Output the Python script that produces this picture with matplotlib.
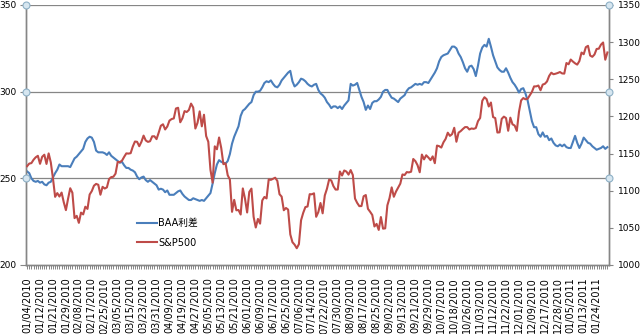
import matplotlib
matplotlib.use("Agg")
import matplotlib.pyplot as plt
from matplotlib.lines import Line2D

plt.rcParams['font.family'] = ['DejaVu Sans', 'Noto Sans CJK SC']

# BAA 利差 (左轴, bp), 每个交易日一个值
baa = [
    254, 253, 250, 248.5, 248, 248.5, 247.5, 248, 246.5, 246,
    247.5, 248, 250.5, 253, 255, 258, 257, 257, 257, 257,
    256.5, 259, 261.5, 262.5, 264, 265.5, 267, 271, 273, 274,
    273.5, 271, 266, 265, 265, 265, 264.5, 263.5, 265, 263,
    262, 261, 260, 259, 259.5, 257.5, 256, 256, 255, 254.5,
    253.5, 251, 249.5, 250.5, 251, 249, 248, 249, 248, 247,
    246, 243.5, 244, 243.5, 242, 243, 240.5, 240.5, 240.5, 241.5,
    242.5, 243, 241, 239.5, 238.5, 237.5, 237.5, 238.5, 238, 237.5,
    237, 237.5, 237, 238.5, 240, 241.5, 247, 253, 258, 260.5,
    259.5, 259, 258.5, 260, 264, 270, 274, 277, 280, 286,
    289, 290, 291.5, 293, 294, 298, 300, 300, 300.5, 302.5,
    305, 306, 305.5, 306.5, 304.5, 303, 302.5, 304, 306.5, 308,
    309.5, 311, 312, 306, 303, 304, 305.5, 307.5, 307, 306,
    304.5, 303.5, 303, 304, 304.5, 301, 299, 298, 296.5, 294,
    292.5, 290.5, 291.5, 291.5, 290.5, 291.5, 290, 292, 293.5, 295,
    304.5, 303.5, 304, 305, 301, 297, 294, 289.5, 292, 290,
    293.5, 294.5, 294.5, 295.5, 297, 300, 301, 301, 298.5, 296.5,
    296, 295, 294, 296, 297, 298, 300.5, 302, 302.5, 303.5,
    304.5, 304, 304.5, 304, 305.5, 305.5, 305, 307, 309, 311,
    313.5, 317.5, 320, 321, 321.5, 322, 324, 326, 326, 325,
    322, 320, 317, 313.5, 311.5, 314.5, 315, 313, 309, 315,
    322, 325.5, 327, 326, 330.5, 326, 321, 317.5, 314, 312.5,
    311.5, 311.5, 313.5, 311, 308, 305.5, 304, 302, 299.5, 301.5,
    302, 299, 295, 289, 283, 279.5, 279.5, 275.5, 274, 276.5,
    274, 274.5, 272, 273, 270.5, 269, 268.5, 269.5, 268.5, 269.5,
    268, 267.5, 267.5, 271, 274.5, 270.5, 267.5, 270, 273.5, 272,
    270.5, 270, 268.5, 267.5, 266.5, 267, 267.5, 268.5, 267, 268,
]

# S&P500 收盘价 (右轴)
spx = [
    # 2010-01
    1132.99, 1136.52, 1137.14, 1141.69, 1144.98, 1146.98, 1136.22, 1145.68, 1148.46, 1136.03,
    1150.23, 1138.04, 1116.48, 1091.76, 1096.78, 1092.17, 1097.50, 1084.53, 1073.87,
    # 02
    1089.19, 1103.32, 1097.28, 1063.11, 1066.19, 1056.74, 1070.52, 1068.13, 1078.47, 1075.51,
    1094.87, 1099.51, 1106.75, 1109.17, 1108.01, 1094.60, 1105.24, 1102.94, 1104.49,
    # 03
    1115.71, 1118.31, 1118.79, 1122.97, 1138.70, 1138.50, 1140.45, 1145.61, 1150.24, 1149.99,
    1150.51, 1159.46, 1166.21, 1165.83, 1159.90, 1165.81, 1174.17, 1167.72, 1165.73, 1166.59,
    1173.22, 1173.27, 1169.43,
    # 04
    1178.10, 1187.44, 1189.44, 1182.45, 1186.44, 1194.37, 1196.48, 1197.30, 1210.65, 1211.67,
    1192.13, 1197.52, 1207.17, 1205.94, 1208.67, 1217.28, 1212.05, 1183.71, 1191.36, 1206.78,
    1186.69,
    # 05
    1202.26, 1173.60, 1165.87, 1128.15, 1110.88, 1159.73, 1155.79, 1171.67, 1157.44, 1135.68,
    1136.94, 1120.80, 1115.05, 1071.59, 1087.69, 1073.65, 1074.03, 1067.95, 1103.06, 1089.41,
    # 06
    1070.71, 1098.38, 1102.83, 1064.88, 1050.47, 1062.00, 1055.69, 1086.84, 1091.60, 1089.63,
    1115.23, 1114.61, 1116.04, 1117.51, 1113.20, 1095.31, 1092.04, 1073.69, 1076.76, 1074.57,
    1041.24, 1030.71,
    # 07
    1027.37, 1022.58, 1028.06, 1060.27, 1070.25, 1077.96, 1078.75, 1095.34, 1095.17, 1096.48,
    1064.88, 1071.25, 1083.48, 1069.59, 1093.67, 1102.66, 1115.01, 1113.84, 1106.13, 1101.53,
    1101.60,
    # 08
    1125.86, 1120.46, 1127.24, 1125.81, 1121.64, 1127.79, 1121.06, 1089.47, 1083.61, 1079.25,
    1079.38, 1092.54, 1094.16, 1075.63, 1071.69, 1067.36, 1051.87, 1055.33, 1047.22, 1064.59,
    1048.92, 1049.33,
    # 09
    1080.29, 1090.10, 1104.51, 1091.84, 1098.87, 1104.18, 1109.55, 1121.90, 1121.10, 1125.07,
    1124.66, 1125.59, 1142.71, 1139.78, 1134.28, 1124.83, 1148.67, 1142.16, 1147.70, 1144.73,
    1141.20,
    # 10
    1146.24, 1137.03, 1160.75, 1159.97, 1158.06, 1165.15, 1169.77, 1178.10, 1173.81, 1176.19,
    1184.71, 1165.90, 1178.17, 1180.26, 1183.08, 1185.62, 1185.64, 1182.45, 1183.78, 1183.26,
    # 11
    1184.38, 1193.57, 1197.96, 1221.06, 1225.85, 1223.25, 1213.40, 1218.71, 1199.21, 1197.75,
    1178.34, 1178.59, 1196.69, 1199.73, 1197.84, 1180.73, 1198.35, 1189.40, 1187.76, 1180.55,
    # 12
    1206.07, 1221.53, 1224.71, 1223.12, 1223.75, 1228.28, 1233.00, 1240.40, 1240.46, 1241.59,
    1235.23, 1242.87, 1243.91, 1247.08, 1254.60, 1258.84, 1256.77, 1257.54, 1258.51, 1259.78,
    1257.88, 1257.64,
    # 2011-01
    1271.87, 1270.20, 1276.56, 1273.85, 1271.50, 1269.75, 1274.48, 1285.96, 1283.76, 1293.24,
    1295.02, 1281.92, 1280.26, 1283.35, 1290.84, 1291.18, 1296.63, 1299.54, 1276.34, 1286.12,
]

# 横轴标签 (每 6 个交易日一个)
date_labels = [
    "01/04/2010", "01/12/2010", "01/21/2010", "01/29/2010", "02/08/2010", "02/17/2010",
    "02/25/2010", "03/05/2010", "03/15/2010", "03/23/2010", "03/31/2010", "04/09/2010",
    "04/19/2010", "04/27/2010", "05/05/2010", "05/13/2010", "05/21/2010", "06/01/2010",
    "06/09/2010", "06/17/2010", "06/25/2010", "07/06/2010", "07/14/2010", "07/22/2010",
    "07/30/2010", "08/09/2010", "08/17/2010", "08/25/2010", "09/02/2010", "09/13/2010",
    "09/21/2010", "09/29/2010", "10/07/2010", "10/18/2010", "10/26/2010", "11/03/2010",
    "11/12/2010", "11/22/2010", "12/01/2010", "12/09/2010", "12/17/2010", "12/28/2010",
    "01/05/2011", "01/13/2011", "01/24/2011",
]
label_step = 6

left_ticks = [200, 250, 300, 350]
right_ticks = [1000, 1050, 1100, 1150, 1200, 1250, 1300, 1350]

blue = '#4a7ebb'
red = '#be4b48'
gray = '#868686'

n = len(baa)
x = list(range(n))

fig = plt.figure(figsize=(6.4, 3.34), dpi=100)
ax = fig.add_axes([26 / 640, 1 - 265 / 334, 582.5 / 640, 260 / 334])
ax2 = ax.twinx()

ax.plot(x, baa, color=blue, lw=1.5, solid_joinstyle='round', zorder=3)
ax2.plot(x, spx, color=red, lw=1.5, solid_joinstyle='round', zorder=3)

ax.set_xlim(-0.5, n - 0.5)
ax.set_ylim(left_ticks[0], left_ticks[-1])
ax2.set_ylim(right_ticks[0], right_ticks[-1])

# 网格线 (左轴)
for v in left_ticks[1:]:
    ax.axhline(v, color=gray, lw=0.9, zorder=1)
# 网格线两端的小圆点
for xe in (-0.5, n - 0.5):
    ax2.plot([xe] * 3, left_ticks[1:], 'o', transform=ax.transData, ms=5,
             mfc='#d6e6f0', mec='#8eb0c6', mew=0.8, clip_on=False, zorder=6)

ax.set_xticks(list(range(0, n, label_step))[:len(date_labels)])
ax.set_xticklabels(date_labels, rotation=90, fontsize=7)
ax.set_xticks(x, minor=True)
ax.tick_params(axis='x', which='both', length=3, width=0.7, color=gray, pad=6, direction='out')

ax.set_yticks(left_ticks)
ax.tick_params(axis='y', length=4, width=0.8, color=gray, labelsize=6.5, pad=3)
ax2.set_yticks(right_ticks)
ax2.tick_params(axis='y', length=3, width=0.8, color=gray, labelsize=6.5, pad=4)

for a in (ax, ax2):
    a.spines['top'].set_visible(False)
    for s in ('left', 'right', 'bottom'):
        a.spines[s].set_color(gray)
        a.spines[s].set_linewidth(1.0)

handles = [Line2D([], [], color=blue, lw=1.5), Line2D([], [], color=red, lw=1.5)]
ax2.legend(handles, ['BAA利差', 'S&P500'], loc='center left', bbox_to_anchor=(0.19, 0.123),
           frameon=False, fontsize=7, handlelength=2.1, handletextpad=0.1,
           labelspacing=1.0, borderpad=0, borderaxespad=0)

fig.savefig('out.png', dpi=100)
